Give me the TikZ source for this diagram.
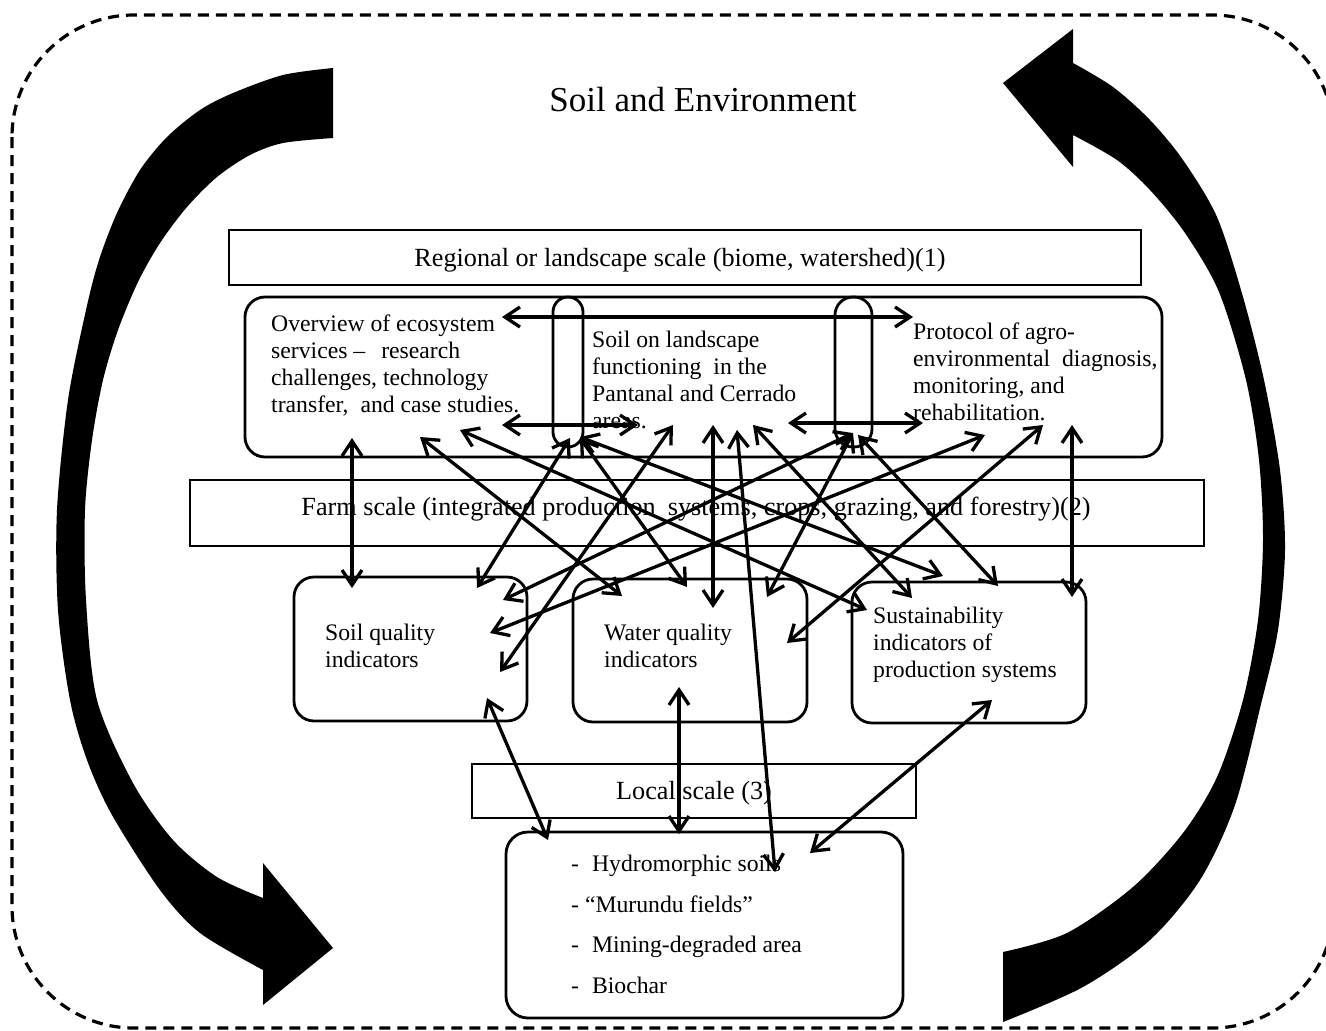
\documentclass[tikz,border=0pt]{standalone}
\usepackage{fontspec}
\setmainfont{Liberation Serif}
\usetikzlibrary{arrows.meta}
\begin{document}
\begin{tikzpicture}[x=1pt,y=-1pt,
  tierbox/.style={draw, line width=2.6pt, inner sep=0pt},
  panel/.style={draw, line width=2.8pt, rounded corners=20pt, inner sep=0pt},
  pill/.style={draw, line width=2.8pt, inner sep=0pt},
  body/.style={inner sep=0pt, align=left, font=\fontsize{23.7}{27}\selectfont},
  tierlbl/.style={inner sep=0pt, font=\fontsize{26.2}{30}\selectfont},
  barb/.tip={Straight Barb[length=15pt,width=20pt]},
  link/.style={line width=3.3pt, barb-barb},
  swoosh/.style={fill=black}
]
\useasboundingbox (0,0) rectangle (1326,1031);
\clip (0,0) rectangle (1326,1031);

% dashed outer frame
\draw[line width=3.2pt, dash pattern=on 11pt off 7pt, rounded corners=122pt]
  (12,15) rectangle (1334,1028);

% large curved arrows around the scheme
\fill[swoosh] plot[smooth] coordinates {(333,68) (283,75) (233,93) (200,110) (167,137)
    (140,170) (117,213) (99,260) (86,310) (68,400) (57,510) (58,610) (70,700)
    (87,760) (112,815) (160,890) (200,933) (263,970)}
  -- (263,1005) -- (333,948) -- (263,863)
  -- plot[smooth] coordinates {(263,898) (217,877) (173,840) (133,783) (97,700)
    (86,600) (85,510) (92,440) (103,380) (118,330) (138,282) (160,243) (187,207)
    (217,177) (250,155) (283,143) (333,138)}
  -- cycle;
\fill[swoosh] plot[smooth] coordinates {(1073,63) (1113,87) (1150,120) (1183,160)
    (1217,217) (1243,297) (1264,380) (1280,470) (1285,550) (1278,630) (1262,700)
    (1235,805) (1200,880) (1150,940) (1083,987) (1003,1022)}
  -- plot[smooth] coordinates {(1003,952) (1067,933) (1133,887) (1183,833) (1217,777)
    (1243,700) (1258,620) (1263,540) (1259,460) (1246,380) (1219,292) (1185,233)
    (1150,190) (1117,160) (1073,135)}
  -- (1073,167) -- (1003,83) -- (1073,29) -- cycle;

% title
\node[font=\fontsize{35}{40}\selectfont, inner sep=0pt] (title) at (703,100) {Soil and Environment};

% regional scale
\node[tierbox, minimum width=912pt, minimum height=55pt] (regional) at (685,257.5) {};
\node[tierlbl] (regional-t) at (680,260) {Regional or landscape scale (biome, watershed)(1)};

\node[panel, minimum width=917pt, minimum height=160pt] (landscape) at (703.5,377) {};
\node[pill, rounded corners=15pt, minimum width=30pt, minimum height=150pt] (pillA) at (568,372) {};
\node[pill, rounded corners=18pt, minimum width=37pt, minimum height=150pt] (pillB) at (853.5,372) {};

\node[body, anchor=west] (ovw) at (271,365) {Overview of ecosystem\\services –\hspace{16pt}research\\challenges, technology\\transfer,\hspace{12pt}and case studies.};
\node[body, anchor=west] (sol) at (592,380) {Soil on landscape\\functioning\hspace{12pt}in the\\Pantanal and Cerrado\\areas.};
\node[body, anchor=west] (prot) at (913,371.5) {Protocol of agro-\\environmental\hspace{12pt}diagnosis,\\monitoring, and\\rehabilitation.};

% farm scale
\node[tierbox, minimum width=1014pt, minimum height=66pt] (farm) at (697,513) {};
\node[tierlbl] (farm-t) at (696,509) {Farm scale (integrated production\hspace{12pt}systems, crops, grazing, and forestry)(2)};

\node[panel, minimum width=233pt, minimum height=144pt] (sqbox) at (410.5,649) {};
\node[panel, minimum width=234pt, minimum height=143pt] (wqbox) at (690,650.5) {};
\node[panel, minimum width=234pt, minimum height=141pt] (sibox) at (969,652.5) {};
\node[body, anchor=west] (sq) at (325,646) {Soil quality\\indicators};
\node[body, anchor=west] (wq) at (604,646) {Water quality\\indicators};
\node[body, anchor=west] (si) at (873,644.5) {Sustainability\\indicators of\\production systems};

% local scale
\node[tierbox, minimum width=444pt, minimum height=54pt] (local) at (694,791) {};
\node[tierlbl] (local-t) at (694,793) {Local scale (3)};

\node[panel, rounded corners=22pt, minimum width=397pt, minimum height=186pt] (sitebox) at (704.5,925) {};
\node[body, anchor=west, font=\fontsize{23.7}{40.7}\selectfont] (sites) at (571,924.5)
  {-\hspace{13pt}Hydromorphic soils\\- “Murundu fields”\\-\hspace{13pt}Mining-degraded area\\-\hspace{13pt}Biochar};

% connector end points
\coordinate (ov-n) at (502,317);   \coordinate (pr-n) at (913,317);
\coordinate (ov-s) at (502,425);   \coordinate (sl-s) at (638,425);
\coordinate (sl-e) at (788,423);   \coordinate (pr-s) at (923,423);
\coordinate (ov-sq) at (352,438);  \coordinate (sq-ov) at (352,588);
\coordinate (ov-wq) at (420,437);  \coordinate (wq-ov) at (622,596);
\coordinate (ov-si) at (460,430);  \coordinate (si-ov) at (867,610);
\coordinate (pa-sq) at (570,438);  \coordinate (sq-pa) at (477,588);
\coordinate (pa-wq) at (580,438);  \coordinate (wq-pa) at (687,587);
\coordinate (pa-si) at (580,437);  \coordinate (si-pa) at (943,576);
\coordinate (sl-sq) at (673,425);  \coordinate (sq-sl) at (500,672);
\coordinate (sl-wq) at (713,425);  \coordinate (wq-sl) at (713,608);
\coordinate (sl-st) at (737,430);  \coordinate (st-sl) at (775,872);
\coordinate (sl-si) at (753,425);  \coordinate (si-sl) at (912,598);
\coordinate (pb-wq) at (853,433);  \coordinate (wq-pb) at (767,597);
\coordinate (pb-sq) at (853,433);  \coordinate (sq-pb) at (503,600);
\coordinate (pb-si) at (858,435);  \coordinate (si-pb) at (998,586);
\coordinate (pr-sq) at (985,435);  \coordinate (sq-pr) at (490,633);
\coordinate (pr-wq) at (1043,425); \coordinate (wq-pr) at (787,643);
\coordinate (pr-si) at (1072,425); \coordinate (si-pr) at (1072,597);
\coordinate (sq-st) at (487,698);  \coordinate (st-sq) at (548,840);
\coordinate (wq-st) at (679,687);  \coordinate (st-wq) at (679,834);
\coordinate (si-st) at (992,700);  \coordinate (st-si) at (810,853);

% two-way links
\draw[link] (ov-n) -- (pr-n);
\draw[link] (ov-s) -- (sl-s);
\draw[link] (sl-e) -- (pr-s);
\draw[link] (ov-sq) -- (sq-ov);
\draw[link] (ov-wq) -- (wq-ov);
\draw[link] (ov-si) -- (si-ov);
\draw[link] (pa-sq) -- (sq-pa);
\draw[link] (pa-wq) -- (wq-pa);
\draw[link] (pa-si) -- (si-pa);
\draw[link] (sl-sq) -- (sq-sl);
\draw[link] (sl-wq) -- (wq-sl);
\draw[link] (sl-st) -- (st-sl);
\draw[link] (sl-si) -- (si-sl);
\draw[link] (pb-wq) -- (wq-pb);
\draw[link] (pb-sq) -- (sq-pb);
\draw[link] (pb-si) -- (si-pb);
\draw[link] (pr-sq) -- (sq-pr);
\draw[link] (pr-wq) -- (wq-pr);
\draw[link] (pr-si) -- (si-pr);
\draw[link] (sq-st) -- (st-sq);
\draw[link] (wq-st) -- (st-wq);
\draw[link] (si-st) -- (st-si);
\end{tikzpicture}
\end{document}
